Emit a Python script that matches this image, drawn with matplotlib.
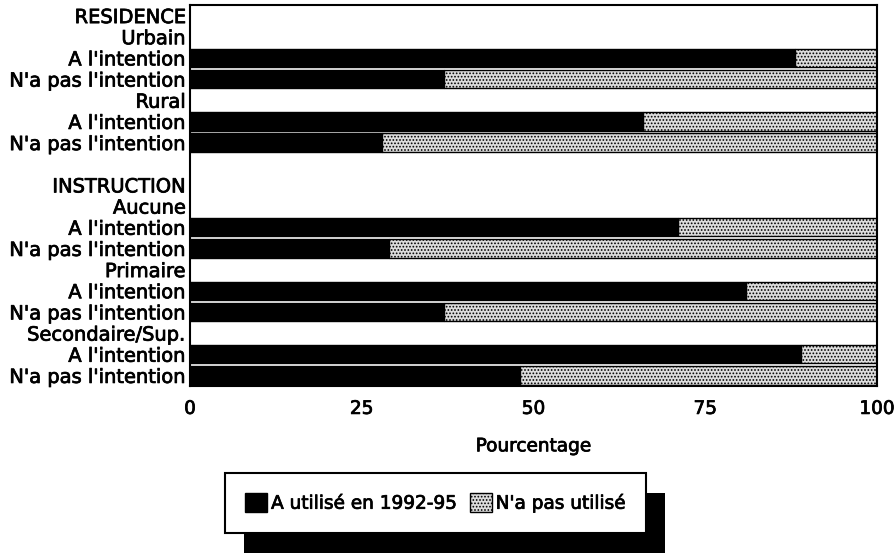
import numpy as np
import matplotlib.pyplot as plt
import matplotlib.patheffects as pe
from matplotlib.patches import Patch, Rectangle

# Rows of the chart, top to bottom (headers have no bar)
row_labels = [
    "RESIDENCE", "Urbain", "A l'intention", "N'a pas l'intention",
    "Rural", "A l'intention", "N'a pas l'intention", "",
    "INSTRUCTION", "Aucune", "A l'intention", "N'a pas l'intention",
    "Primaire", "A l'intention", "N'a pas l'intention",
    "Secondaire/Sup.", "A l'intention", "N'a pas l'intention",
]
# index of each row carrying a bar
bar_rows = [2, 3, 5, 6, 10, 11, 13, 14, 16, 17]
used = [88, 37, 66, 28, 71, 29, 81, 37, 89, 48]          # A utilisé en 1992-95
not_used = [12, 63, 34, 72, 29, 71, 19, 63, 11, 52]      # N'a pas utilisé
xticks = [0, 25, 50, 75, 100]

plt.rcParams['font.family'] = ['DejaVu Sans']
plt.rcParams['hatch.linewidth'] = 0.8
FS = 13.3
GREY = '#dcdcdc'
# slightly heavier strokes for all text
heavy = [pe.withStroke(linewidth=0.55, foreground='black')]

fig = plt.figure(figsize=(8.95, 5.57), dpi=100)
ax = fig.add_axes([190 / 895, 1 - 386 / 557, 687 / 895, 381 / 557])

y = np.array(bar_rows)
bh = 0.86
ax.barh(y, used, height=bh, color='black', edgecolor='black', linewidth=1)
ax.barh(y, not_used, left=used, height=bh, facecolor=GREY,
        edgecolor='black', hatch='.....', linewidth=1)

ax.set_ylim(len(row_labels) - 0.5, -0.5)
ax.set_xlim(0, 100)
ax.set_yticks(np.arange(len(row_labels)), row_labels, fontsize=14)
ax.set_xticks(xticks, [str(t) for t in xticks], fontsize=FS)
ax.tick_params(axis='y', length=0, pad=3)
ax.tick_params(axis='x', length=0, pad=10)
ax.set_xlabel("Pourcentage", fontsize=FS, labelpad=14)
for s in ax.spines.values():
    s.set_linewidth(1.5)

handles = [
    Patch(facecolor='black', edgecolor='black', label="A utilisé en 1992-95"),
    Patch(facecolor=GREY, edgecolor='black', hatch='.....', label="N'a pas utilisé"),
]
leg = fig.legend(handles=handles, loc='center', bbox_to_anchor=(435.5 / 895, 1 - 503 / 557),
                 ncol=2, fontsize=FS, frameon=True, fancybox=False,
                 edgecolor='black', framealpha=1, handlelength=1.2, handleheight=1.15,
                 handletextpad=0.2, columnspacing=0.7, borderpad=1.1)
leg.get_frame().set_linewidth(1.5)

for t in ax.get_xticklabels() + ax.get_yticklabels() + leg.get_texts() + [ax.xaxis.label]:
    t.set_path_effects(heavy)

# solid drop shadow behind the legend box
fig.canvas.draw()
bb = leg.get_window_extent().transformed(fig.transFigure.inverted())
dx, dy = 19 / 895, 20 / 557
fig.patches.append(Rectangle((bb.x0 + dx, bb.y0 - dy), bb.width, bb.height,
                             transform=fig.transFigure, facecolor='black',
                             edgecolor='none', zorder=4))

fig.savefig("out.png", dpi=100)
